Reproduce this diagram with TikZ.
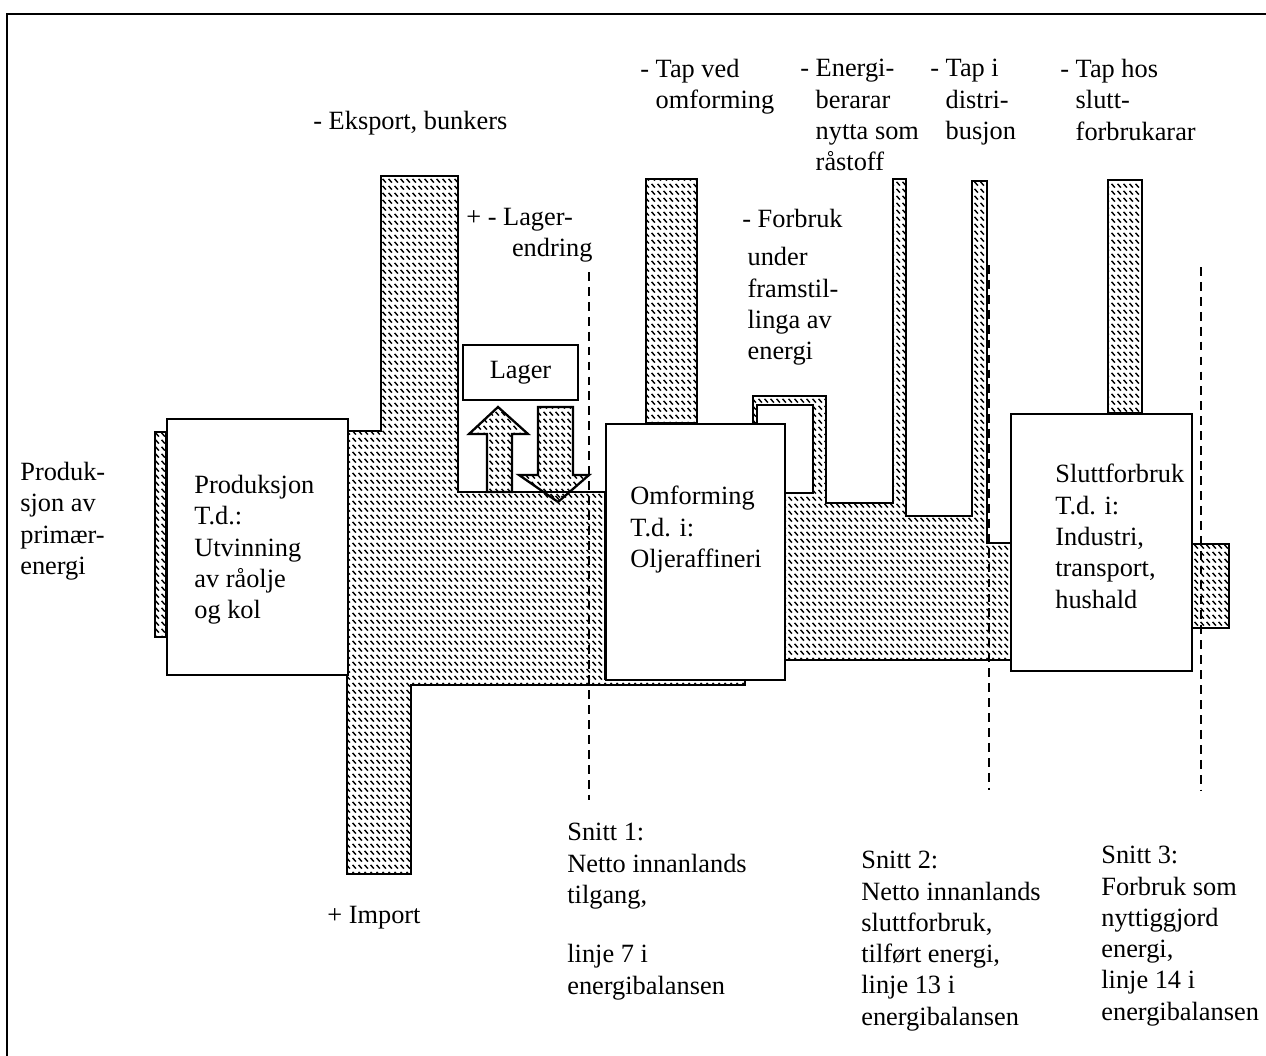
\documentclass[tikz,border=0pt]{standalone}
\usepackage{fontspec}
\setmainfont{Liberation Serif}
\usetikzlibrary{patterns}

% stipla skravering for energistraumane
\pgfdeclarepatternformonly{dashhatch}{\pgfpointorigin}{\pgfqpoint{3.4pt}{4.2pt}}{\pgfqpoint{3.4pt}{4.2pt}}{%
  \pgfsetlinewidth{0.85pt}%
  \pgfpathmoveto{\pgfqpoint{0.34pt}{3.78pt}}%
  \pgfpathlineto{\pgfqpoint{2.21pt}{1.47pt}}%
  \pgfusepath{stroke}}
\newcommand{\innrykk}{\hphantom{-\ }}

\begin{document}
\begin{tikzpicture}
[x=0.02cm, y=-0.02cm,
   flow/.style={draw, line width=1.3pt, pattern=dashhatch},
   box/.style={draw, fill=white, line width=1.4pt, anchor=north west, inner sep=0pt},
   lbl/.style={anchor=north west, inner sep=0pt, align=left, font=\fontsize{15}{17.8}\selectfont},
   snitt/.style={line width=1.1pt, dash pattern=on 5pt off 3.5pt}]
\useasboundingbox (0,0) rectangle (1266,1055);
\draw [line width=1.4pt] (7,1070) -- (7,14) -- (1280,14);

% straum fram til omforming
\draw [flow] (347,431) -- (381,431) -- (381,176) -- (458,176) -- (458,492) -- (605,492)
  -- (605,679) -- (745,679) -- (745,685) -- (411,685) -- (411,874) -- (347,874) -- cycle;
\draw [flow] (155,432) rectangle (166,637);
% lagerpilar
\draw [flow] (487,492) -- (487,434) -- (469,434) -- (498,407) -- (528,434) -- (512,434)
  -- (512,492) -- cycle;
\draw [flow] (538,407) -- (573,407) -- (573,475) -- (589,475) -- (558,502) -- (519,475)
  -- (538,475) -- cycle;
% straum etter omforming
\draw [flow] (784,493) -- (813,493) -- (813,405) -- (757,405) -- (757,423) -- (753,423)
  -- (753,396) -- (826,396) -- (826,503) -- (893,503) -- (893,179) -- (906,179)
  -- (906,516) -- (972,516) -- (972,181) -- (987,181) -- (987,543) -- (1011,543)
  -- (1011,660) -- (784,660) -- cycle;
\draw [flow] (646,179) rectangle (697,423);
\draw [flow] (1108,180) rectangle (1142,413);
\draw [flow] (1191,544) rectangle (1229,628);

% boksar
\node [box, minimum width=3.62cm, minimum height=5.12cm] (prod) at (166,418) {};
\node [box, minimum width=3.58cm, minimum height=5.12cm] (omf) at (605,423) {};
\node [box, minimum width=3.62cm, minimum height=5.14cm] (slutt) at (1010,413) {};
\node [box, anchor=center, minimum width=2.3cm, minimum height=1.1cm,
  font=\fontsize{15}{17.8}\selectfont] (lager) at (520.5,372.5) {Lager};

% snitt
\draw [snitt] (589,272) -- (589,800);
\draw [snitt] (989,265) -- (989,790);
\draw [snitt] (1201,267) -- (1201,790);

% tekstar
\node [lbl] (primtxt) at (20,462) {Produk-\\sjon av\\primær-\\energi};
\node [lbl] (prodtxt) at (194,475) {Produksjon\\T.d.:\\Utvinning\\av råolje\\og kol};
\node [lbl] (omftxt) at (630,486) {Omforming\\T.d. i:\\Oljeraffineri};
\node [lbl] (slutttxt) at (1055,464) {Sluttforbruk\\T.d. i:\\Industri,\\transport,\\hushald};
\node [lbl] (eksport) at (313,111) {- Eksport, bunkers};
\node [lbl] (lagerendr) at (466,208) {+ - Lager-\\\hspace*{26pt}endring};
\node [lbl] (tapomf) at (640,59) {- Tap ved\\\innrykk omforming};
\node [lbl] (berarar) at (800,59) {- Energi-\\\innrykk berarar\\\innrykk nytta som\\\innrykk råstoff};
\node [lbl] (tapdistr) at (930,59) {- Tap i\\\innrykk distri-\\\innrykk busjon};
\node [lbl] (tapslutt) at (1060,59) {- Tap hos\\\innrykk slutt-\\\innrykk forbrukarar};
\node [lbl] (forbruk) at (742,209) {- Forbruk\\[4pt]\hspace*{3pt}under\\\hspace*{3pt}framstil-\\\hspace*{3pt}linga av\\\hspace*{3pt}energi};
\node [lbl] (import) at (327,906) {+ Import};
\node [lbl] (snitt1) at (567,823) {Snitt 1:\\Netto innanlands\\tilgang,\\[16pt]linje 7 i\\energibalansen};
\node [lbl] (snitt2) at (861,851) {Snitt 2:\\Netto innanlands\\sluttforbruk,\\tilført energi,\\linje 13 i\\energibalansen};
\node [lbl] (snitt3) at (1101,846) {Snitt 3:\\Forbruk som\\nyttiggjord\\energi,\\linje 14 i\\energibalansen};
\end{tikzpicture}
\end{document}
